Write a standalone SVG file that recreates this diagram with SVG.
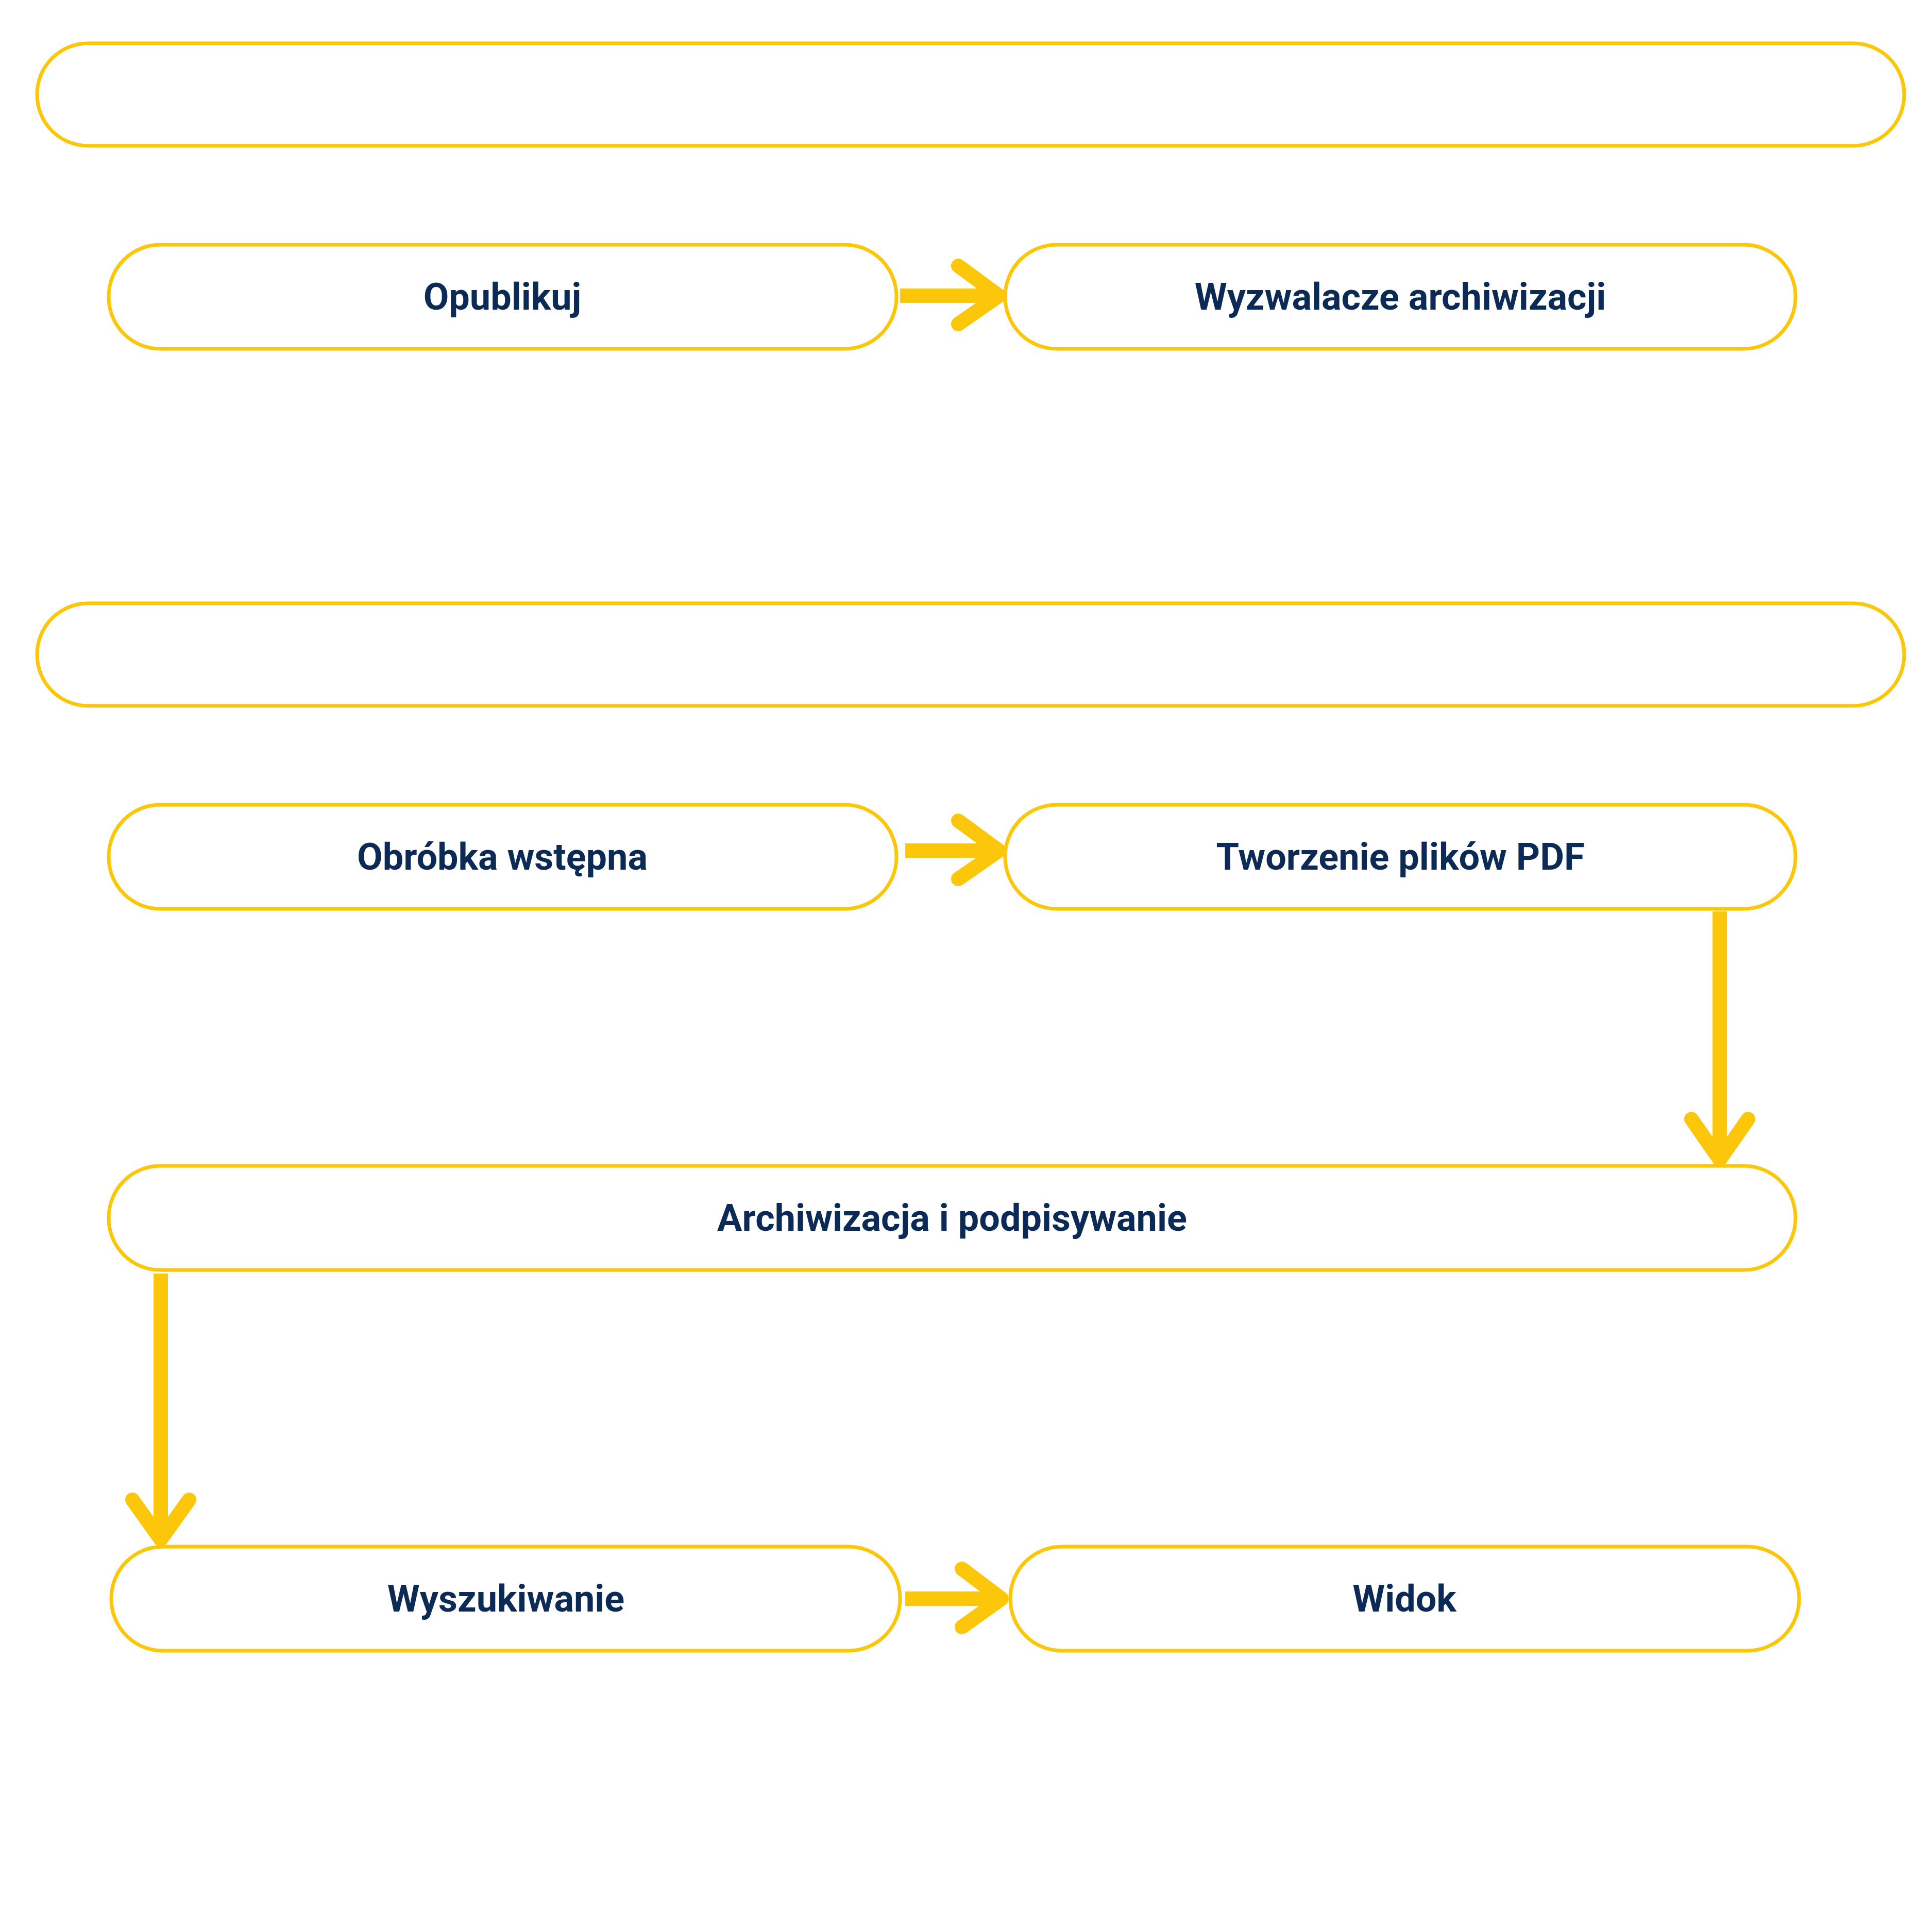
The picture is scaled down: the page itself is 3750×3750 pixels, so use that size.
<svg xmlns="http://www.w3.org/2000/svg" width="3750" height="3750" viewBox="0 0 3750 3750">
<style>
.n{fill:#fff;stroke:#fcc60a;stroke-width:7}
.t{font-family:Roboto,"Liberation Sans",sans-serif;font-weight:bold;font-size:72px;fill:#0b2a55;text-anchor:middle;dominant-baseline:central}
.c{stroke:#fcc60a;stroke-width:28;fill:none;stroke-linecap:round;stroke-linejoin:round}
.s{stroke:#fcc60a;stroke-width:28;fill:none}
</style>
<rect width="3750" height="3750" fill="#fff"/>
<g id="band1"><rect class="n" x="72" y="84" width="3624" height="199" rx="99"/></g>
<g id="band2"><rect class="n" x="72" y="1171" width="3624" height="199" rx="99"/></g>
<g id="opublikuj"><rect class="n" x="211" y="475" width="1529" height="202" rx="100"/><text class="t" x="975" y="576">Opublikuj</text></g>
<g id="wyzwalacze"><rect class="n" x="1951" y="475" width="1534" height="202" rx="100"/><text class="t" x="2718" y="576">Wyzwalacze archiwizacji</text></g>
<g id="obrobka"><rect class="n" x="211" y="1562" width="1529" height="202" rx="100"/><text class="t" x="975" y="1663">Obróbka wstępna</text></g>
<g id="tworzenie"><rect class="n" x="1951" y="1562" width="1534" height="202" rx="100"/><text class="t" x="2718" y="1663">Tworzenie plików PDF</text></g>
<g id="archiwizacja"><rect class="n" x="211" y="2263" width="3274" height="202" rx="100"/><text class="t" x="1848" y="2364">Archiwizacja i podpisywanie</text></g>
<g id="wyszukiwanie"><rect class="n" x="216" y="3002" width="1531" height="202" rx="100"/><text class="t" x="982" y="3103">Wyszukiwanie</text></g>
<g id="widok"><rect class="n" x="1961" y="3002" width="1531" height="202" rx="100"/><text class="t" x="2726" y="3103">Widok</text></g>
<g id="connectors">
<line class="s" x1="1747" y1="574" x2="1930" y2="574"/><polyline class="c" points="1860,516 1939,574 1860,629"/>
<line class="s" x1="1757" y1="1651" x2="1930" y2="1651"/><polyline class="c" points="1860,1593 1939,1651 1860,1706"/>
<line class="s" x1="3338" y1="1769" x2="3338" y2="2240"/><polyline class="c" points="3283,2172 3338,2251 3393,2172"/>
<line class="s" x1="312" y1="2472" x2="312" y2="2978"/><polyline class="c" points="257,2911 312,2988 367,2911"/>
<line class="s" x1="1757" y1="3103" x2="1935" y2="3103"/><polyline class="c" points="1867,3045 1944,3103 1867,3158"/>
</g>
</svg>
